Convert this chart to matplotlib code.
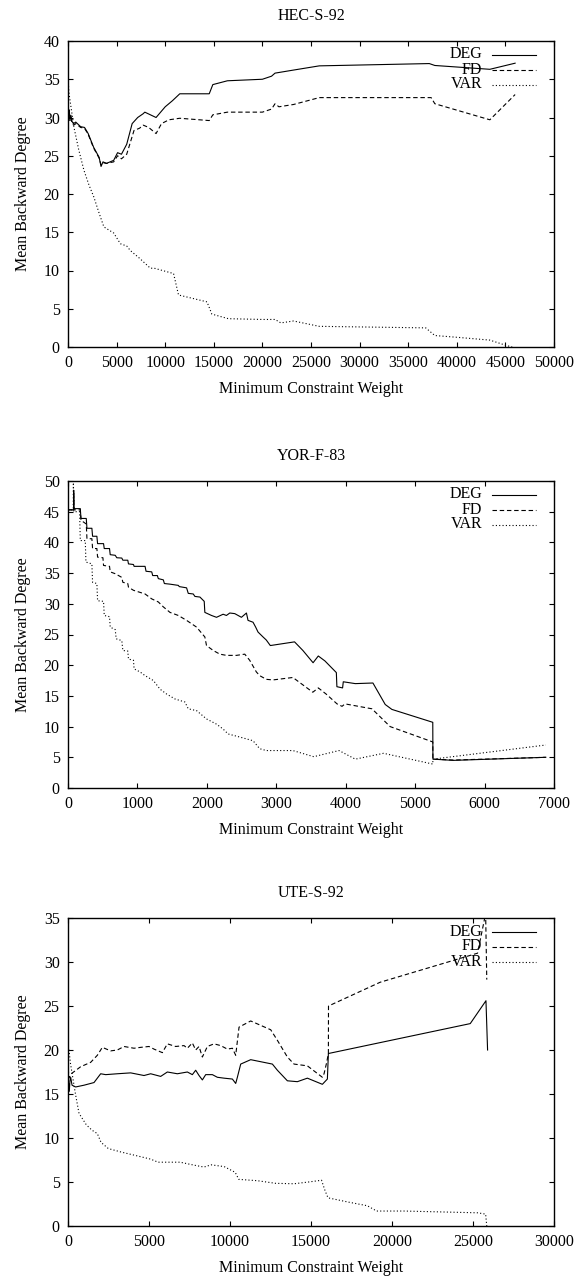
import matplotlib
matplotlib.use("Agg")
import matplotlib.pyplot as plt

# ---- HEC-S-92 ----
hec_deg_x = [0, 60, 120, 200, 300, 400, 570, 800, 1300, 1700, 2075, 2640, 3200, 3400, 3600, 3960, 4700, 5100, 5500, 6040,
             6600, 7170, 7740, 7900, 9060, 10000, 10750, 11500, 14530, 14900, 16400, 20000, 20940, 21300, 23200, 25850,
             37170, 37740, 43400, 46000]
hec_deg_y = [31.5, 30.2, 31.0, 29.8, 30.3, 29.5, 29.2, 29.4, 28.8, 28.7, 27.9, 26.1, 24.8, 23.6, 24.2, 24.0, 24.4, 25.4, 25.2, 26.5,
             29.2, 30.0, 30.5, 30.7, 30.0, 31.4, 32.2, 33.1, 33.1, 34.3, 34.8, 35.0, 35.4, 35.8, 36.2, 36.75,
             37.05, 36.8, 36.3, 37.1]

hec_fd_x = [0, 60, 120, 200, 300, 400, 570, 800, 1300, 1700, 2075, 2640, 3200, 3400, 3600, 3960, 4700, 5100, 5500, 6040,
            6790, 7360, 7740, 8300, 9060, 9620, 10380, 11500, 14530, 14900, 16400, 20000, 20940, 21300, 21700, 23200,
            25850, 37360, 37740, 43400, 46000]
hec_fd_y = [30.8, 29.9, 30.5, 29.6, 30.0, 29.3, 29.0, 29.2, 28.7, 28.6, 27.8, 26.0, 24.7, 23.8, 24.1, 24.0, 24.2, 25.0, 24.6, 25.2,
            28.3, 28.6, 29.0, 28.7, 27.9, 29.2, 29.7, 29.9, 29.6, 30.35, 30.7, 30.7, 31.1, 31.8, 31.4, 31.7,
            32.6, 32.6, 31.8, 29.7, 33.0]

hec_var_x = [0, 40, 120, 615, 1100, 1640, 2150, 2660, 3200, 3690, 4700, 5390, 6040, 6420, 7360, 8470, 8870, 10860, 11370, 14300,
             14800, 16500, 20000, 21300, 21900, 23200, 25850, 36800, 37740, 40200, 43400, 45100, 45700]
hec_var_y = [31.0, 34.3, 33.0, 28.7, 25.8, 23.1, 21.2, 19.6, 17.5, 15.7, 14.9, 13.5, 13.2, 12.6, 11.6, 10.3, 10.3, 9.6, 6.8, 5.9,
             4.3, 3.7, 3.6, 3.6, 3.15, 3.4, 2.7, 2.5, 1.5, 1.25, 0.9, 0.2, 0.0]

# ---- YOR-F-83 ----
yor_deg_x = [0, 80, 82, 86, 177, 187, 263, 273, 344, 354, 416, 426, 512, 522, 598, 608, 680, 703, 775, 790,
             861, 871, 943, 952, 1110, 1124, 1206, 1220, 1287, 1301, 1373, 1388, 1469, 1589, 1603, 1708, 1732, 1804, 1828, 1900,
             1962, 1971, 2067, 2139, 2234, 2282, 2330, 2402, 2498, 2570, 2593, 2665, 2703, 2737, 2809, 2856, 2914, 3263, 3383, 3530,
             3605, 3700, 3865, 3873, 3955, 3965, 4138, 4392, 4569, 4665, 5254, 5256, 5550, 6882]
yor_deg_y = [45.3, 45.3, 48.5, 45.5, 45.5, 43.9, 43.9, 42.3, 42.3, 41.0, 41.0, 39.8, 39.8, 39.0, 39.0, 38.0, 37.9, 37.5, 37.45, 37.1,
             37.1, 36.5, 36.4, 36.1, 36.1, 35.3, 35.2, 34.6, 34.6, 34.1, 33.9, 33.3, 33.2, 33.0, 32.8, 32.6, 31.7, 31.6, 31.2, 31.1,
             30.4, 28.6, 28.1, 27.8, 28.3, 28.1, 28.5, 28.4, 27.8, 28.5, 27.3, 27.0, 26.2, 25.4, 24.6, 24.1, 23.2, 23.8, 22.4, 20.4,
             21.5, 20.7, 18.8, 16.5, 16.3, 17.3, 17.0, 17.1, 13.6, 12.8, 10.7, 4.7, 4.5, 5.0]

yor_fd_x = [0, 80, 82, 86, 177, 187, 263, 273, 344, 354, 416, 426, 503, 512, 598, 608, 680, 775, 790, 861,
            871, 943, 1110, 1206, 1301, 1373, 1469, 1589, 1708, 1852, 1971, 1995, 2091, 2187, 2282, 2426, 2546, 2617, 2713, 2761,
            2856, 2952, 3239, 3526, 3605, 3718, 3875, 3947, 3990, 4378, 4640, 5254, 5256, 5550, 6882]
yor_fd_y = [45.3, 45.3, 48.0, 45.3, 45.3, 43.6, 43.0, 40.6, 40.6, 39.0, 39.0, 37.6, 37.5, 36.25, 36.1, 35.2, 34.9, 34.3, 33.5, 33.3,
            32.7, 32.2, 31.6, 30.8, 30.3, 29.5, 28.6, 28.1, 27.3, 26.2, 24.6, 23.2, 22.4, 21.8, 21.6, 21.6, 21.8, 20.8, 18.9, 18.3,
            17.7, 17.6, 18.0, 15.6, 16.3, 15.3, 13.7, 13.3, 13.7, 12.9, 10.0, 7.5, 4.7, 4.55, 5.0]

yor_var_x = [0, 75, 78, 82, 167, 177, 249, 258, 344, 354, 416, 426, 512, 522, 598, 608, 680, 694, 775, 790,
             861, 871, 943, 952, 1038, 1110, 1230, 1325, 1421, 1541, 1684, 1732, 1852, 1995, 2139, 2234, 2306, 2474, 2665, 2761,
             2856, 3239, 3539, 3904, 4138, 4545, 5254, 5256, 6882]
yor_var_y = [45.3, 45.3, 50.0, 45.0, 45.0, 40.3, 40.3, 36.8, 36.5, 33.5, 33.3, 30.5, 30.4, 28.1, 27.9, 26.2, 25.8, 24.3, 24.0, 22.4,
             22.3, 21.0, 20.8, 19.4, 18.9, 18.3, 17.5, 16.1, 15.3, 14.5, 14.0, 12.9, 12.6, 11.25, 10.4, 9.6, 8.8, 8.3, 7.7, 6.4,
             6.1, 6.1, 5.1, 6.1, 4.7, 5.65, 3.9, 4.7, 7.0]

# ---- UTE-S-92 ----
ute_deg_x = [0, 40, 80, 120, 165, 250, 473, 988, 1605, 2017, 2326, 3046, 3870, 4692, 5104, 5721, 6133, 6750, 7368, 7676,
             7882, 8088, 8294, 8500, 8911, 9220, 9632, 10146, 10352, 10455, 10661, 11278, 12616, 12925, 13542, 14159, 14776,
             15702, 16011, 16073, 24830, 25800, 25900]
ute_deg_y = [15.0, 16.2, 15.3, 16.5, 16.9, 16.0, 15.8, 16.0, 16.3, 17.3, 17.2, 17.3, 17.4, 17.1, 17.3, 17.0, 17.5, 17.3, 17.5, 17.2,
             17.7, 17.1, 16.6, 17.2, 17.2, 16.9, 16.8, 16.7, 16.2, 16.9, 18.4, 18.9, 18.4, 17.7, 16.5, 16.4, 16.8,
             16.1, 16.7, 19.6, 23.0, 25.6, 20.0]

ute_fd_x = [0, 30, 60, 200, 782, 1400, 1811, 2120, 2634, 3046, 3457, 4075, 4487, 5001, 5310, 5824, 6133, 6647, 7162, 7368,
            7676, 7882, 8088, 8294, 8603, 9014, 9426, 9838, 10146, 10352, 10558, 11278, 12513, 12925, 13542, 13954, 14776,
            15702, 15805, 15970, 16073, 16080, 19270, 25280, 25780, 25850]
ute_fd_y = [19.5, 17.5, 16.8, 17.3, 18.1, 18.6, 19.4, 20.3, 19.9, 20.0, 20.4, 20.2, 20.3, 20.4, 20.1, 19.7, 20.7, 20.4, 20.5, 20.2,
            20.8, 20.0, 20.4, 19.2, 20.4, 20.7, 20.5, 20.1, 20.2, 19.4, 22.6, 23.3, 22.3, 21.1, 19.2, 18.4, 18.2,
            16.9, 17.3, 18.6, 19.6, 25.0, 27.7, 31.0, 35.5, 28.0]

ute_var_x = [0, 60, 150, 300, 450, 680, 1130, 1470, 1810, 2040, 2490, 3290, 4200, 5100, 5560, 6920, 7820, 8390, 8840, 9640,
             10320, 10540, 11680, 12810, 13950, 14850, 15650, 15870, 16050, 17350, 18480, 19050, 20750, 25280, 25780, 25850]
ute_var_y = [19.6, 20.0, 18.5, 16.8, 15.1, 12.8, 11.5, 10.9, 10.5, 9.5, 8.8, 8.4, 8.0, 7.6, 7.25, 7.25, 6.9, 6.7, 6.95, 6.75,
             6.1, 5.3, 5.15, 4.85, 4.8, 5.0, 5.2, 4.0, 3.2, 2.7, 2.3, 1.7, 1.7, 1.5, 1.35, 0.0]

titles = ["HEC-S-92", "YOR-F-83", "UTE-S-92"]
labels = ["DEG", "FD", "VAR"]
xmaxes = [50000, 7000, 30000]
xsteps = [5000, 1000, 5000]
ymaxes = [40, 50, 35]

plt.rcParams["font.family"] = ["Liberation Serif", "DejaVu Serif"]
FS = 11.5

fig = plt.figure(figsize=(5.76, 12.79), dpi=100)
W, H = 576.0, 1279.0
left, right = 68, 554
tops = [41, 481, 918]
bottoms = [347, 788, 1226]

series = [
    [(hec_deg_x, hec_deg_y), (hec_fd_x, hec_fd_y), (hec_var_x, hec_var_y)],
    [(yor_deg_x, yor_deg_y), (yor_fd_x, yor_fd_y), (yor_var_x, yor_var_y)],
    [(ute_deg_x, ute_deg_y), (ute_fd_x, ute_fd_y), (ute_var_x, ute_var_y)],
]
styles = ["-", (0, (4, 2.5)), (0, (1, 2))]

for i in range(3):
    ax = fig.add_axes([left / W, 1 - bottoms[i] / H, (right - left) / W, (bottoms[i] - tops[i]) / H])
    for (xs, ys), ls in zip(series[i], styles):
        ax.plot(xs, ys, color="black", linestyle=ls, linewidth=0.8)
    ax.set_xlim(0, xmaxes[i])
    ax.set_ylim(0, ymaxes[i])
    ax.set_xticks(range(0, xmaxes[i] + 1, xsteps[i]))
    ax.set_yticks(range(0, ymaxes[i] + 1, 5))
    ax.tick_params(direction="in", top=True, right=True, length=3.5, width=0.8, pad=6, labelsize=FS)
    for sp in ax.spines.values():
        sp.set_linewidth(1.0)
    ax.set_title(titles[i], fontsize=FS, pad=15)
    ax.set_xlabel("Minimum Constraint Weight", fontsize=FS, labelpad=7)
    ax.set_ylabel("Mean Backward Degree", fontsize=FS, labelpad=9)

    # gnuplot-style key: right-aligned label, sample line to its right
    h = bottoms[i] - tops[i]
    for k, (lab, ls) in enumerate(zip(labels, styles)):
        yk = 1 - (13.5 + 15 * k) / h
        ax.text(0.852, yk, lab, transform=ax.transAxes, ha="right", va="center", fontsize=FS)
        ax.plot([0.873, 0.962], [yk, yk], transform=ax.transAxes, color="black",
                linestyle=ls, linewidth=0.8)

fig.savefig("out.png", dpi=100)
